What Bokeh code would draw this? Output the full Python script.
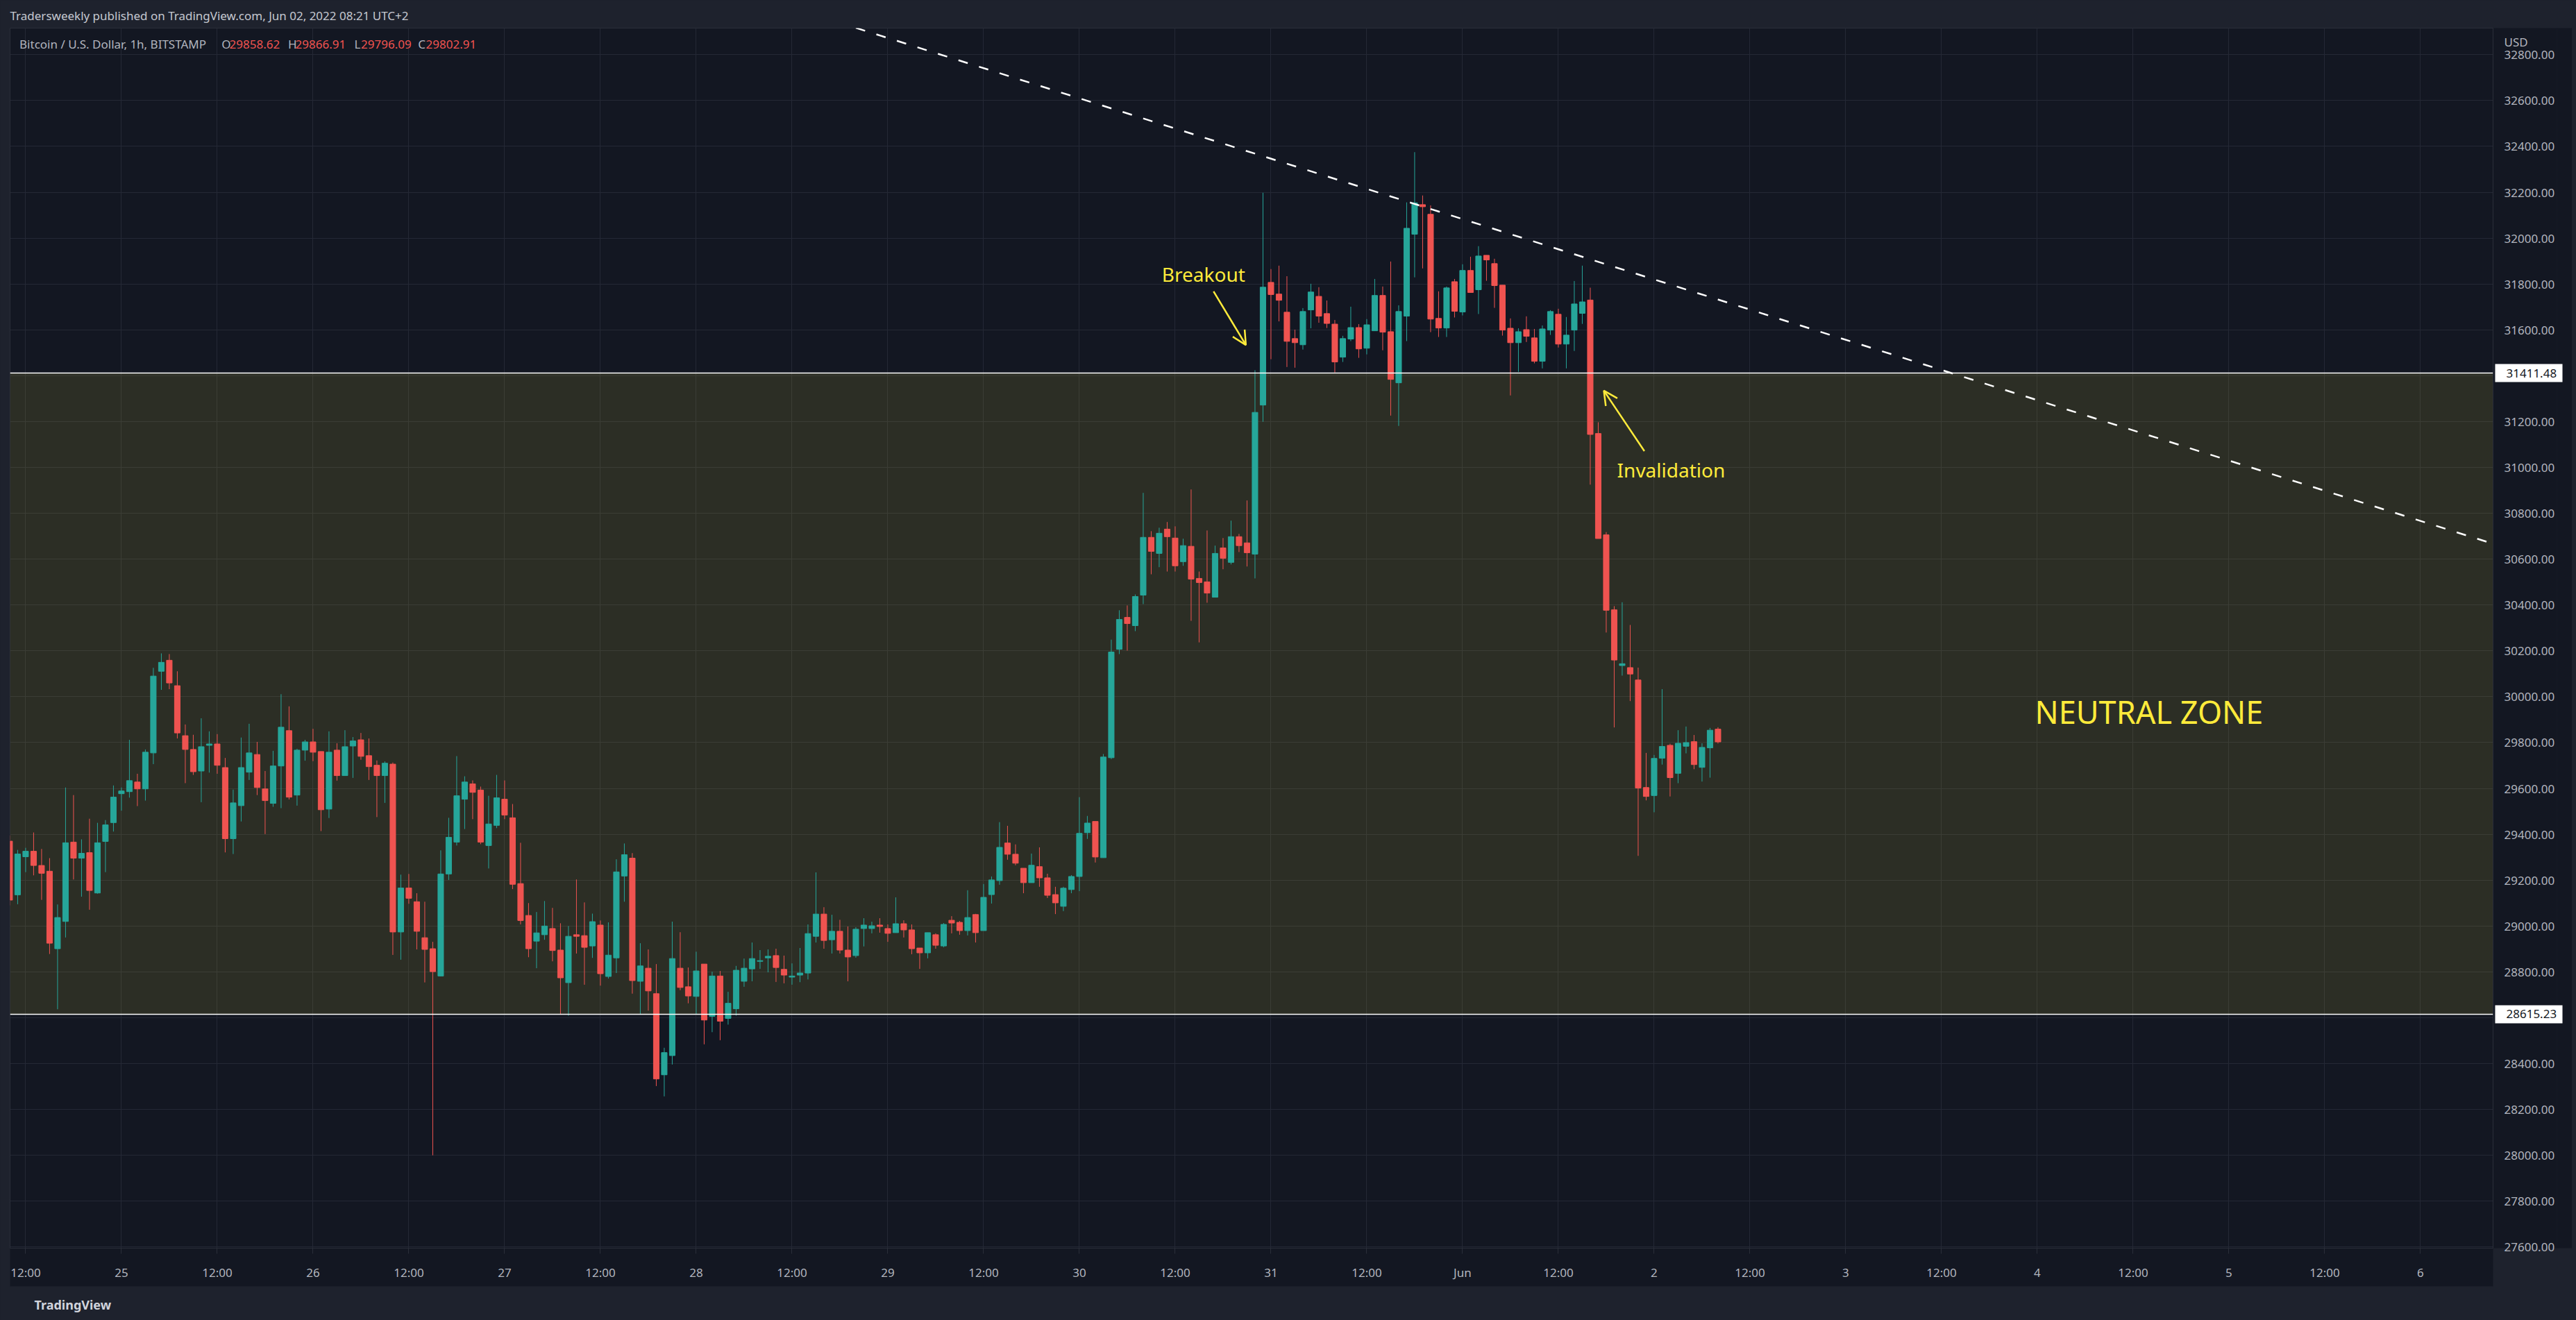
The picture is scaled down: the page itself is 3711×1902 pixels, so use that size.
import numpy as np
from bokeh.plotting import figure
from bokeh.models import (Range1d, FixedTicker, CustomJSTickFormatter, NumeralTickFormatter,
                          Span, BoxAnnotation, Label, Arrow, OpenHead, ColumnDataSource,
                          LinearAxis, Title)
from bokeh.embed import file_html
from bokeh.resources import INLINE

# ---------------- data ----------------
# hours since 2022-05-25 00:00 (UTC+2), 1h candles from May 24 10:00 to Jun 02 08:00
hours = list(range(-14, 201))

opens = [29370, 29136, 29302, 29326, 29264, 29239, 28901, 29020, 29366, 29296,
         29320, 29144, 29369, 29451, 29577, 29586, 29628, 29598, 29755, 30111,
         30159, 30048, 29830, 29770, 29676, 29788, 29794, 29691, 29381, 29525,
         29671, 29748, 29598, 29535, 29698, 29852, 29571, 29767, 29803, 29761,
         29510, 29767, 29656, 29785, 29812, 29743, 29701, 29656, 29706, 28974,
         29166, 29106, 28949, 28901, 28782, 29227, 29366, 29553, 29620, 29593,
         29351, 29439, 29553, 29472, 29185, 29046, 28934, 28962, 28989, 28895,
         28753, 28962, 28958, 28913, 29004, 28780, 28861, 29218, 29296, 28759,
         28816, 28705, 28351, 28435, 28816, 28735, 28693, 28834, 28606, 28782,
         28597, 28639, 28759, 28813, 28846, 28861, 28871, 28811, 28777, 28786,
         28795, 28955, 29052, 28940, 28977, 28895, 28871, 28989, 28989, 29004,
         28989, 28971, 29010, 28983, 28904, 28883, 28962, 28913, 29025, 29016,
         28980, 29050, 28980, 29137, 29198, 29362, 29313, 29252, 29189, 29259,
         29210, 29137, 29086, 29159, 29216, 29407, 29456, 29298, 29734, 30207,
         30346, 30310, 30443, 30695, 30625, 30731, 30692, 30589, 30656, 30516,
         30501, 30434, 30649, 30586, 30698, 30671, 30622, 31272, 31807, 31756,
         31677, 31562, 31535, 31687, 31746, 31671, 31625, 31481, 31560, 31610,
         31520, 31596, 31750, 31592, 31369, 31660, 32017, 32146, 32104, 31650,
         31608, 31810, 31678, 31859, 31775, 31925, 31889, 31795, 31607, 31544,
         31601, 31565, 31463, 31599, 31668, 31538, 31599, 31672, 31730, 31148,
         30706, 30379, 30136, 30127, 30073, 29604, 29569, 29732, 29788, 29666,
         29784, 29804, 29692, 29777, 29858.62]

highs = [29395, 29332, 29341, 29408, 29336, 29296, 29094, 29604, 29571, 29378,
         29468, 29450, 29462, 29613, 29604, 29812, 29664, 29770, 30126, 30189,
         30186, 30111, 29879, 29834, 29906, 29849, 29837, 29733, 29595, 29822,
         29882, 29803, 29676, 29764, 30011, 29958, 29773, 29812, 29860, 29761,
         29849, 29797, 29854, 29824, 29842, 29818, 29722, 29718, 29713, 29224,
         29227, 29143, 29106, 28931, 29330, 29472, 29741, 29653, 29635, 29608,
         29568, 29659, 29635, 29532, 29363, 29100, 29061, 29109, 29079, 29012,
         29000, 29203, 29103, 29054, 29024, 29016, 29291, 29360, 29318, 28925,
         28898, 28834, 28469, 29019, 28973, 28819, 28888, 28834, 28801, 28804,
         28713, 28826, 28858, 28928, 28895, 28898, 28901, 28871, 28837, 28904,
         29007, 29234, 29082, 29049, 29027, 28998, 28995, 29034, 29019, 29034,
         29007, 29125, 29025, 29007, 28904, 28971, 28968, 29013, 29043, 29022,
         29156, 29053, 29183, 29216, 29453, 29437, 29356, 29252, 29316, 29343,
         29228, 29171, 29171, 29222, 29562, 29480, 29456, 29750, 30249, 30377,
         30398, 30446, 30889, 30722, 30737, 30762, 30743, 30689, 30904, 30546,
         30725, 30659, 30692, 30768, 30710, 30856, 31424, 32198, 31865, 31880,
         31834, 31601, 31695, 31801, 31786, 31728, 31643, 31574, 31701, 31625,
         31647, 31822, 31789, 31898, 31707, 32156, 32375, 32186, 32143, 31768,
         31789, 31822, 31886, 31919, 31965, 31925, 31910, 31795, 31650, 31607,
         31659, 31604, 31619, 31686, 31692, 31656, 31813, 31880, 31784, 31197,
         30718, 30395, 30412, 30313, 30127, 29755, 29746, 30033, 29795, 29854,
         29870, 29833, 29797, 29864, 29866.91]

lows = [29090, 29095, 29235, 29221, 29114, 28878, 28637, 28950, 29203, 29128,
        29071, 29141, 29235, 29412, 29503, 29560, 29523, 29547, 29706, 30030,
        30033, 29818, 29623, 29659, 29540, 29669, 29664, 29321, 29314, 29456,
        29637, 29571, 29401, 29520, 29514, 29552, 29525, 29721, 29719, 29414,
        29471, 29634, 29656, 29646, 29725, 29637, 29475, 29537, 28874, 28853,
        29097, 28898, 28754, 28000, 28782, 29201, 29351, 29423, 29466, 29357,
        29251, 29427, 29466, 29161, 29007, 28864, 28816, 28940, 28846, 28615,
        28609, 28880, 28744, 28861, 28740, 28771, 28795, 29106, 28705, 28615,
        28631, 28302, 28257, 28396, 28720, 28663, 28615, 28484, 28537, 28502,
        28570, 28609, 28735, 28759, 28813, 28798, 28756, 28750, 28744, 28755,
        28767, 28928, 28901, 28880, 28880, 28759, 28862, 28911, 28968, 28971,
        28931, 28971, 28950, 28877, 28813, 28859, 28901, 28907, 28968, 28962,
        28959, 28928, 28980, 29098, 29180, 29289, 29265, 29143, 29189, 29171,
        29122, 29052, 29065, 29143, 29152, 29380, 29277, 29298, 29728, 30186,
        30201, 30286, 30404, 30534, 30565, 30546, 30546, 30571, 30331, 30237,
        30410, 30434, 30556, 30577, 30631, 30568, 30516, 31199, 31472, 31637,
        31438, 31435, 31514, 31607, 31631, 31608, 31414, 31460, 31551, 31478,
        31493, 31596, 31511, 31226, 31181, 31551, 31829, 31868, 31590, 31569,
        31569, 31654, 31663, 31763, 31669, 31814, 31696, 31575, 31314, 31417,
        31547, 31454, 31432, 31578, 31523, 31432, 31508, 31626, 30925, 30690,
        30280, 29866, 30092, 29981, 29306, 29548, 29496, 29704, 29565, 29623,
        29753, 29684, 29630, 29647, 29796.09]

closes = [29113, 29314, 29326, 29264, 29230, 28925, 29037, 29363, 29296, 29317,
          29155, 29363, 29441, 29562, 29589, 29634, 29598, 29758, 30090, 30150,
          30060, 29842, 29770, 29673, 29782, 29794, 29701, 29381, 29537, 29691,
          29755, 29604, 29547, 29698, 29867, 29562, 29767, 29803, 29758, 29507,
          29758, 29656, 29782, 29807, 29740, 29695, 29656, 29710, 28974, 29166,
          29121, 28977, 28898, 28801, 29227, 29387, 29568, 29628, 29583, 29366,
          29445, 29559, 29484, 29182, 29024, 28901, 28970, 29000, 28893, 28774,
          28955, 28955, 28907, 29019, 28792, 28873, 29236, 29311, 28762, 28826,
          28717, 28333, 28448, 28858, 28732, 28695, 28804, 28590, 28782, 28585,
          28663, 28807, 28816, 28858, 28849, 28868, 28819, 28786, 28782, 28795,
          28967, 29052, 28937, 28977, 28895, 28865, 28986, 29004, 29001, 28998,
          28968, 29010, 28983, 28901, 28883, 28971, 28916, 29007, 29013, 28980,
          29037, 28971, 29125, 29201, 29343, 29313, 29274, 29189, 29265, 29210,
          29134, 29101, 29165, 29216, 29404, 29449, 29301, 29737, 30195, 30337,
          30319, 30437, 30695, 30634, 30713, 30698, 30571, 30659, 30513, 30498,
          30452, 30625, 30604, 30698, 30659, 30628, 31240, 31786, 31754, 31729,
          31550, 31544, 31680, 31765, 31660, 31628, 31460, 31562, 31610, 31517,
          31622, 31750, 31590, 31384, 31680, 32043, 32154, 32137, 31647, 31608,
          31783, 31681, 31859, 31763, 31922, 31905, 31793, 31599, 31544, 31592,
          31572, 31463, 31604, 31680, 31538, 31577, 31713, 31722, 31144, 30690,
          30377, 30160, 30144, 30099, 29602, 29565, 29731, 29783, 29647, 29797,
          29800, 29704, 29779, 29854, 29802.91]

zone_top = 31411.48
zone_bottom = 28615.23

trend_hours = [92.0, 297.1]
trend_prices = [32917, 30667]

x_ticks = [-12, 0, 12, 24, 36, 48, 60, 72, 84, 96, 108, 120, 132, 144, 156,
           168, 180, 192, 204, 216, 228, 240, 252, 264, 276, 288]
x_labels = ["12:00", "25", "12:00", "26", "12:00", "27", "12:00", "28", "12:00",
            "29", "12:00", "30", "12:00", "31", "12:00", "Jun", "12:00", "2",
            "12:00", "3", "12:00", "4", "12:00", "5", "12:00", "6"]
y_grid_ticks = list(range(27600, 32801, 200))
# price-scale labels (31400 and 28600 are hidden behind the level boxes)
y_label_ticks = [t for t in y_grid_ticks if t not in (28600, 31400)]
usd_tick = 32856

# ---------------- style ----------------
UP = "#26a69a"
DOWN = "#ef5350"
YELLOW = "#ffeb3b"
PANEL = "#131722"
OUTER = "#1e222d"
GRID = "#242835"
SEP = "#2a2e39"
TXT = "#b2b5be"
FONT = "Noto Sans"

X0, X1 = -13.95, 297.09
Y0, Y1 = 27595, 32916

p = figure(frame_width=3577, frame_height=1758, output_backend="svg", toolbar_location=None,
           x_range=Range1d(X0, X1), y_range=Range1d(Y0, Y1),
           y_axis_location="right",
           min_border_left=14, min_border_top=40, min_border_right=0, min_border_bottom=0)
p.background_fill_color = PANEL
p.border_fill_color = OUTER
p.outline_line_color = SEP

p.xgrid.ticker = FixedTicker(ticks=x_ticks)
p.ygrid.ticker = FixedTicker(ticks=y_grid_ticks)
p.grid.grid_line_color = GRID
p.grid.grid_line_width = 1

# header (title above the panel)
p.title = Title(text="Tradersweekly published on TradingView.com, Jun 02, 2022 08:21 UTC+2",
                align="left", offset=0, standoff=11, vertical_align="middle",
                text_font=FONT, text_font_size="17px", text_font_style="normal",
                text_color="#c5c8d0")

# time axis
p.xaxis.ticker = FixedTicker(ticks=x_ticks)
p.xaxis.formatter = CustomJSTickFormatter(
    args=dict(tick_vals=x_ticks, tick_names=x_labels),
    code="const i = tick_vals.indexOf(tick); return i >= 0 ? tick_names[i] : '';")
# price axis
p.yaxis.ticker = FixedTicker(ticks=y_label_ticks + [usd_tick])
p.yaxis.formatter = CustomJSTickFormatter(
    args=dict(usd_at=usd_tick),
    code="return Math.abs(tick - usd_at) < 1 ? 'USD' : tick.toFixed(2);")
for ax in (p.xaxis[0], p.yaxis[0]):
    ax.background_fill_color = PANEL
    ax.axis_line_color = SEP
    ax.minor_tick_line_color = None
    ax.minor_tick_out = 0
    ax.minor_tick_in = 0
    ax.major_label_text_color = TXT
    ax.major_label_text_font = FONT
    ax.major_label_text_font_size = "17px"
p.yaxis.major_tick_line_color = None
p.yaxis.major_tick_out = 0
p.yaxis.major_tick_in = 0
p.yaxis.major_label_standoff = 16
p.xaxis.major_tick_out = 8
p.xaxis.major_tick_in = 0
p.xaxis.major_tick_line_color = SEP
p.xaxis.major_label_standoff = 15
p.xaxis.axis_label = " "
p.xaxis.axis_label_text_font_size = "2px"
p.xaxis.axis_label_standoff = 1

# level price labels (white boxes on the price scale)
lvl_axis = LinearAxis(ticker=FixedTicker(ticks=[zone_top, zone_bottom]),
                      formatter=NumeralTickFormatter(format="0.00"))
lvl_axis.background_fill_color = PANEL
lvl_axis.axis_line_color = None
lvl_axis.minor_tick_line_color = None
lvl_axis.minor_tick_out = 0
lvl_axis.minor_tick_in = 0
lvl_axis.major_tick_line_color = "#ffffff"
lvl_axis.major_tick_line_width = 26
lvl_axis.major_tick_in = 89
lvl_axis.major_tick_out = 8
lvl_axis.major_label_standoff = -81
lvl_axis.major_label_text_color = "#131722"
lvl_axis.major_label_text_font = FONT
lvl_axis.major_label_text_font_size = "17px"
lvl_axis.axis_label = " "
lvl_axis.axis_label_text_font = FONT
lvl_axis.axis_label_text_font_size = "10px"
lvl_axis.axis_label_standoff = 2
p.add_layout(lvl_axis, "right")

# footer
p.add_layout(Title(text="TradingView", align="left", offset=35, standoff=26,
                   vertical_align="middle", text_font=FONT, text_font_size="18px",
                   text_font_style="bold", text_color="#d1d4dc"), "below")

# neutral zone
p.add_layout(BoxAnnotation(bottom=zone_bottom, top=zone_top, fill_color="#f5e13c",
                           fill_alpha=0.115, line_color=None, level="underlay"))

# candles
o = np.array(opens, dtype=float)
c = np.array(closes, dtype=float)
colors = [UP if cc >= oo else DOWN for oo, cc in zip(o, c)]
src = ColumnDataSource(dict(x=hours, high=highs, low=lows,
                            top=np.maximum(o, c), bottom=np.minimum(o, c), color=colors))
p.segment(x0="x", y0="low", x1="x", y1="high", line_color="color", line_width=1, source=src)
p.vbar(x="x", width=0.7, top="top", bottom="bottom", fill_color="color",
       line_color="color", line_width=1, source=src)

# horizontal levels
for lv in (zone_top, zone_bottom):
    p.add_layout(Span(location=lv, dimension="width", line_color="#ffffff", line_width=1.5))

# trend line
p.line(trend_hours, trend_prices, line_color="#ffffff", line_width=2.5, line_dash="14 17")

# arrows
p.add_layout(Arrow(end=OpenHead(size=20, line_color=YELLOW, line_width=2.5),
                   x_start=136.81, y_start=31768, x_end=140.86, y_end=31534,
                   line_color=YELLOW, line_width=2.5))
p.add_layout(Arrow(end=OpenHead(size=20, line_color=YELLOW, line_width=2.5),
                   x_start=190.78, y_start=31071, x_end=185.70, y_end=31335,
                   line_color=YELLOW, line_width=2.5))

def lab(x, y, text, size, color, **kw):
    p.add_layout(Label(x=x, y=y, text=text, text_font=FONT, text_font_size=size,
                       text_color=color, text_baseline="middle", text_align="left", **kw))

lab(130.34, 31842, "Breakout", "28px", YELLOW)
lab(187.36, 30988, "Invalidation", "28px", YELLOW)
lab(239.7, 29935, "NEUTRAL ZONE", "45px", YELLOW)

# legend line
legend_y = 32846
lab(-12.77, legend_y, "Bitcoin / U.S. Dollar, 1h, BITSTAMP", "17px", TXT)
lab(12.54, legend_y, "O", "17px", TXT)
lab(13.53, legend_y, "29858.62", "17px", DOWN)
lab(20.88, legend_y, "H", "17px", TXT)
lab(21.79, legend_y, "29866.91", "17px", DOWN)
lab(29.18, legend_y, "L", "17px", TXT)
lab(30.01, legend_y, "29796.09", "17px", DOWN)
lab(37.15, legend_y, "C", "17px", TXT)
lab(38.14, legend_y, "29802.91", "17px", DOWN)

html = file_html(p, INLINE)
html = html.replace("<head>", "<head><style>html, body {background-color: #1e222d;}</style>", 1)
open("out.html", "w").write(html)
